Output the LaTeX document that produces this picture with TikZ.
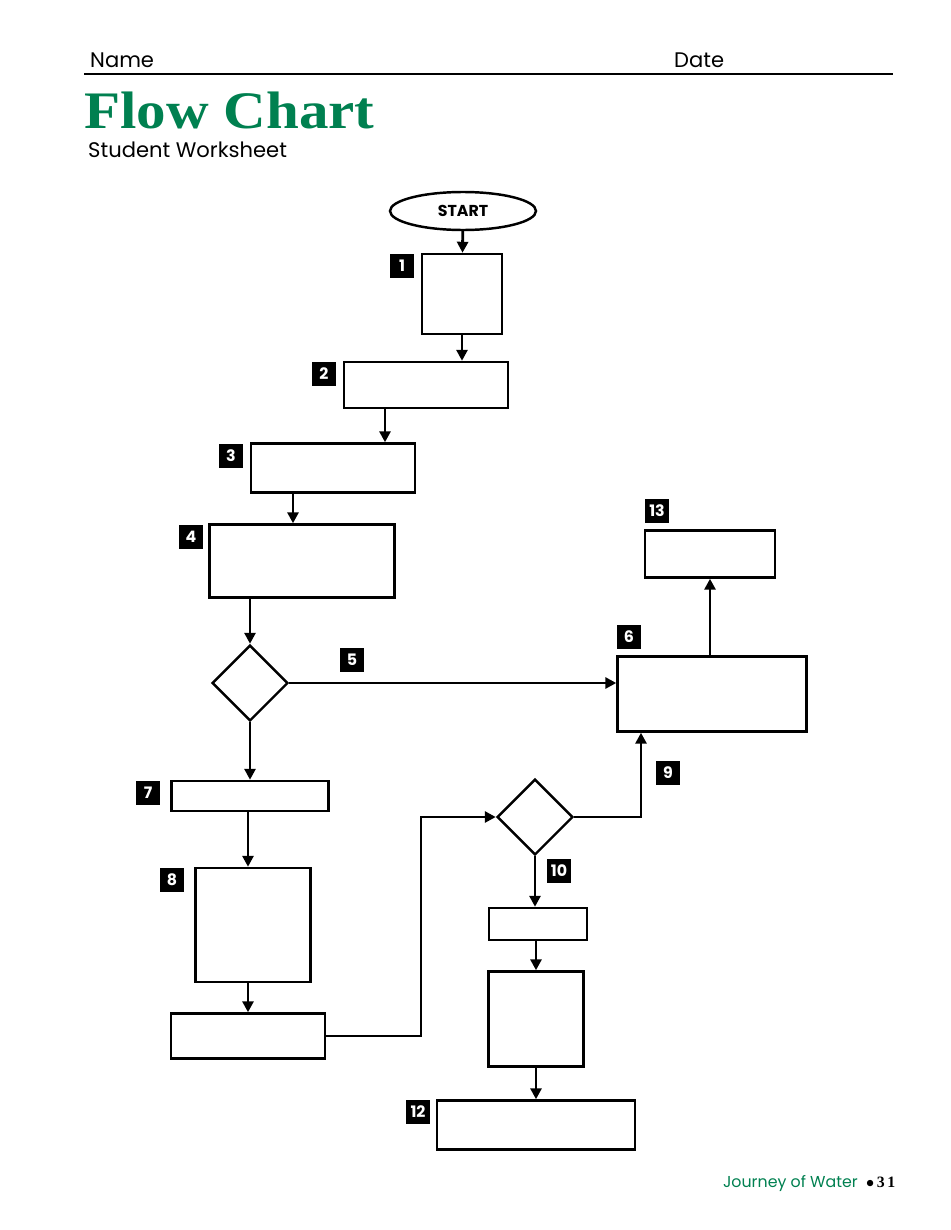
\documentclass[tikz,border=0pt]{standalone}
\usepackage{fontspec}
\setmainfont{Poppins}
\newfontfamily\titlefont{Liberation Serif}
\usetikzlibrary{shapes.geometric, arrows.meta, positioning}
\definecolor{titlegreen}{RGB}{0, 128, 80}
\tikzset{
    % Boxes
    box/.style={draw, line width=1.4pt, inner sep=0pt},
    decision/.style={diamond, draw, line width=1.4pt, minimum width=1.52cm, minimum height=1.52cm, inner sep=0pt},
    % Number tags
    tag/.style={fill=black, text=white, font=\small\bfseries, minimum size=0.48cm, inner sep=0pt},
    % Arrows
    myarrow/.style={-{Triangle[length=2.2mm, width=2.2mm]}, line width=1.6pt},
}
\begin{document}
\begin{tikzpicture}[x=0.02cm, y=-0.02cm]
\useasboundingbox (0,0) rectangle (950,1230);

% Header
\node[anchor=base west, font=\large] (name) at (84,68) {Name};
\node[anchor=base west, font=\large] (date) at (668,68) {Date};
\draw[line width=1.2pt] (84,74) -- (893,74);
\node[anchor=base west, font=\titlefont\bfseries\fontsize{30}{32}\selectfont, text=titlegreen, inner sep=0pt] (title) at (84,129) {\scalebox{1.12}[1]{Flow Chart}};
\node[anchor=base west, font=\large] (sub) at (82,157) {Student Worksheet};

% Nodes
\node[ellipse, draw, line width=1.4pt, minimum width=2.92cm, minimum height=0.76cm, inner sep=0pt, font=\small\bfseries] (start) at (463,211) {START};
\node[box, minimum width=1.6cm, minimum height=1.6cm] (b1) at (462,294) {};
\node[box, minimum width=3.28cm, minimum height=0.92cm] (b2) at (426,385) {};
\node[box, minimum width=3.28cm, minimum height=0.98cm] (b3) at (333,468) {};
\node[box, minimum width=3.7cm, minimum height=1.46cm] (b4) at (302,561) {};
\node[decision] (d1) at (250,683) {};
\node[box, minimum width=3.78cm, minimum height=1.5cm] (b6) at (712,694) {};
\node[box, minimum width=2.6cm, minimum height=0.94cm] (b13) at (710,554) {};
\node[box, minimum width=3.14cm, minimum height=0.6cm] (b7) at (250,796) {};
\node[box, minimum width=2.3cm, minimum height=2.28cm] (b8) at (253,925) {};
\node[box, minimum width=3.08cm, minimum height=0.9cm] (b9) at (248,1036) {};
\node[decision] (d2) at (535,817) {};
\node[box, minimum width=1.96cm, minimum height=0.64cm] (b10) at (538,924) {};
\node[box, minimum width=1.9cm, minimum height=1.9cm] (b11) at (536,1019) {};
\node[box, minimum width=3.96cm, minimum height=0.98cm] (b12) at (536,1125) {};
\coordinate (c1) at (421,1036);
\coordinate (c2) at (421,817);
\coordinate (c3) at (641,817);

% Tags
\node[tag] at (402,266) {1};
\node[tag] at (324,374) {2};
\node[tag] at (231,456) {3};
\node[tag] at (191,537) {4};
\node[tag] at (352,660) {5};
\node[tag] at (629,637) {6};
\node[tag] at (148,793) {7};
\node[tag] at (172,880) {8};
\node[tag] at (668,773) {9};
\node[tag] at (559,871) {10};
\node[tag] at (418,1112) {12};
\node[tag] at (657,511) {13};

% Arrows
\draw[myarrow] (start) -- (b1);
\draw[myarrow] (b1) -- (b1|-b2.north);
\draw[myarrow] (b2.south-|385,0) -- (385,0|-b3.north);
\draw[myarrow] (b3.south-|293,0) -- (293,0|-b4.north);
\draw[myarrow] (b4.south-|d1) -- (d1);
\draw[myarrow] (d1) -- (b6.west|-d1);
\draw[myarrow] (b6.north-|b13) -- (b13);
\draw[myarrow] (d1) -- (d1|-b7.north);
\draw[myarrow] (b7.south-|248,0) -- (248,0|-b8.north);
\draw[myarrow] (b8.south-|b9) -- (b9);
\draw[myarrow] (b9.east) -- (c1) -- (c2) -- (d2);
\draw[myarrow] (d2) -- (c3) -- (c3|-b6.south);
\draw[myarrow] (d2) -- (d2|-b10.north);
\draw[myarrow] (b10.south-|b11) -- (b11);
\draw[myarrow] (b11.south-|b12) -- (b12);

% Footer
\node[anchor=base east, font=\small, text=titlegreen] (foot) at (864,1187) {Journey of Water};
\node[anchor=base west, font=\titlefont\bfseries\small, inner sep=1pt] at (foot.base east) {$\bullet$\,3\,1};
\end{tikzpicture}
\end{document}
